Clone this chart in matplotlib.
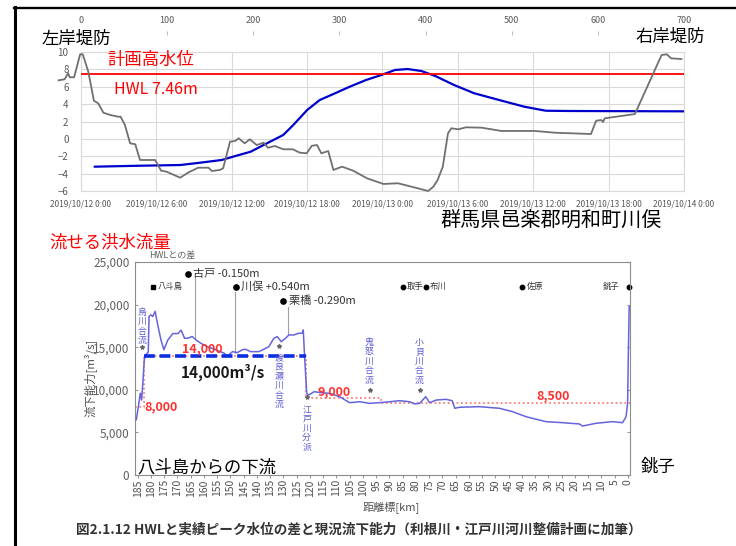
import numpy as np
import matplotlib.pyplot as plt
from matplotlib.lines import Line2D

plt.rcParams['font.family'] = ['Noto Sans CJK JP', 'DejaVu Sans']

# 上段: 横断面 (距離 m / 標高 m)
sec_x = [-26, -19, -15, -13, -8, -1, 2, 8.5, 15, 20,
         26, 34, 43, 46, 51, 57, 63, 68.5, 86, 93,
         99.5, 115, 125, 136, 148, 152, 161, 165, 173, 179,
         183, 190, 196, 204, 212, 217, 225, 235, 246, 254,
         262, 268, 274, 279, 287, 293, 303, 316, 332, 351,
         368, 391, 403, 409, 414, 420, 426, 430, 438, 447,
         465, 488, 527, 550, 592, 598, 604, 606, 608, 627,
         643, 674, 680, 685, 697]
sec_z = [6.74, 6.86, 7.55, 7.09, 7.09, 9.74, 9.74, 7.73, 4.39, 4.09,
         3.01, 2.75, 2.55, 2.55, 1.60, -0.51, -0.62, -2.43, -2.43, -3.66,
         -3.78, -4.47, -3.85, -3.32, -3.32, -3.70, -3.58, -3.39, -0.33, -0.24,
         0.07, -0.51, -0.05, -0.71, -0.44, -1.02, -0.82, -1.20, -1.20, -1.59,
         -1.66, -0.79, -0.71, -1.66, -1.40, -3.58, -3.20, -3.66, -4.54, -5.19,
         -5.11, -5.69, -6.00, -5.51, -4.73, -3.20, 0.64, 1.22, 1.10, 1.33,
         1.29, 0.91, 0.91, 0.71, 0.56, 2.09, 2.17, 1.94, 2.37, 2.63,
         2.86, 9.65, 9.74, 9.27, 9.19]

# 上段: 川俣水位 (2019/10/12 0:00 からの時間 h / 水位 m)
wl_t = [1.1, 4.7, 7.9, 9.5, 11.2, 12.1, 13.5, 14.8, 16.1, 16.9,
        18.0, 19.0, 20.1, 21.4, 22.7, 23.9, 25.0, 26.0, 27.1, 28.2,
        29.7, 31.3, 33.5, 35.3, 37.0, 38.8, 48.0]
wl_h = [-3.20, -3.09, -3.01, -2.74, -2.43, -2.05, -1.48, -0.51, 0.45, 1.60,
        3.32, 4.47, 5.17, 6.01, 6.78, 7.35, 7.93, 8.04, 7.81, 7.24,
        6.20, 5.25, 4.39, 3.70, 3.24, 3.21, 3.17]
hwl = 7.46

time_ticks = [0, 6, 12, 18, 24, 30, 36, 42, 48]
time_labels = ['2019/10/12 0:00', '2019/10/12 6:00', '2019/10/12 12:00',
               '2019/10/12 18:00', '2019/10/13 0:00', '2019/10/13 6:00',
               '2019/10/13 12:00', '2019/10/13 18:00', '2019/10/14 0:00']
dist_ticks = [0, 100, 200, 300, 400, 500, 600, 700]

# 下段: 現況流下能力 (距離標 km / m3/s)
cap_km = [185.5, 184.5, 184.0, 183.5, 183.0, 182.5, 182.0, 181.0, 180.7, 180.0,
          179.3, 178.4, 177.4, 176.2, 175.1, 173.6, 171.7, 169.8, 168.6, 167.3,
          166.1, 164.4, 163.0, 161.1, 158.6, 155.5, 152.4, 151.1, 149.2, 147.4,
          145.5, 144.3, 142.4, 139.2, 137.4, 135.5, 133.6, 132.3, 130.8, 129.2,
          127.9, 126.0, 124.2, 122.9, 122.5, 122.0, 121.2, 120.4, 118.4, 115.9,
          112.5, 108.8, 105.0, 101.2, 97.5, 93.7, 89.9, 86.1, 82.4, 80.5,
          78.6, 76.3, 74.8, 72.3, 68.6, 66.3, 65.3, 63.5, 56.0, 48.5,
          43.5, 38.4, 30.9, 24.6, 18.3, 17.1, 12.0, 5.8, 2.0, 0.7,
          0.1, -0.2, -0.5]
cap_q = [6500, 8500, 9600, 8800, 11000, 13500, 14100, 14400, 18600, 18800,
         18600, 19200, 17600, 15850, 14700, 15850, 16600, 16600, 17000, 16050,
         16050, 16250, 15850, 15450, 15050, 14700, 14300, 13970, 14480, 14360,
         14700, 14760, 14480, 14480, 14760, 15060, 16050, 16240, 15650, 16050,
         16440, 16440, 16640, 16640, 17020, 13890, 9590, 9390, 9780, 9660,
         9590, 9190, 8490, 8600, 8410, 8490, 8600, 8720, 8600, 8340,
         8410, 9190, 8490, 8800, 8880, 8720, 7830, 7950, 8020, 7830,
         7430, 6840, 6260, 6140, 5990, 5750, 6070, 6260, 6140, 6840,
         8410, 14680, 19760]

# 計画流量 (赤点線)
plan_km = [186, 182.6, 182.6, 121.6, 121.6, 93.0, 93.0, -0.8]
plan_q = [8000, 8000, 14000, 14000, 9000, 9000, 8500, 8500]
# 流せる洪水流量 14,000m3/s
flow_km = [182.5, 121.6]
flow_q = 14000

# 水位観測所
gauge_names = ['古戸 -0.150m', '川俣 +0.540m', '栗橋 -0.290m']
gauge_km = [166.0, 148.0, 130.0]
gauge_y = [23600, 22070, 20400]
lead_km = [163.4, 148.3, 128.4]
lead_top = [23100, 21500, 19700]
lead_bot = [16100, 14300, 16400]

small_names = ['取手', '布川', '佐原']
small_km = [85.0, 76.3, 39.8]
small_y = 22100

# 合流点
conf_names = ['烏川合流', '渡良瀬川合流', '江戸川分派', '鬼怒川合流', '小貝川合流']
conf_km = [183.4, 131.6, 121.2, 97.5, 78.6]
conf_top = [19600, 14300, 8200, 16080, 16080]
conf_star = [15060, 15140, 9190, 9980, 9980]

W, H = 736, 546


def fx(x):
    return x / W


def fy(y):
    return 1 - y / H


fig = plt.figure(figsize=(7.36, 5.46), dpi=100)

# 枠線
fig.add_artist(Line2D([fx(14.7), fx(14.7)], [fy(7), 0], color='k', lw=2.2,
                      transform=fig.transFigure))
fig.add_artist(Line2D([fx(13.6), 1], [fy(7.8), fy(7.8)], color='k', lw=1.7,
                      transform=fig.transFigure))

# ---- 上段 ----
ax1 = fig.add_axes([fx(81), fy(191), 603 / W, 139 / H])
ax1.set_xlim(0, 48)
ax1.set_ylim(-6, 10)
ax1.set_xticks(time_ticks)
ax1.set_xticklabels(time_labels)
ax1.set_yticks(range(-6, 11, 2))
ax1.grid(color='#d9d9d9', lw=0.8)
for s in ax1.spines.values():
    s.set_color('#d9d9d9')
ax1.tick_params(length=0, labelsize=6, labelcolor='#595959')
ax1.tick_params(axis='y', labelsize=7, pad=9)
ax1.tick_params(axis='x', pad=6)
ax1.plot(wl_t, wl_h, color='#0000cc', lw=1.6, zorder=3)
ax1.plot([0, 48], [hwl, hwl], color='#ff0000', lw=1.3, zorder=3)

ax2 = fig.add_axes([fx(81), fy(191), 603 / W, 156 / H])
ax2.patch.set_alpha(0)
ax2.set_xlim(0, 700)
ax2.set_ylim(-6, -6 + 156 / 8.6875)
for s in ax2.spines.values():
    s.set_visible(False)
ax2.set_yticks([])
ax2.xaxis.tick_top()
ax2.set_xticks(dist_ticks)
ax2.tick_params(axis='x', length=3, color='#bfbfbf', labelsize=6.5,
                labelcolor='#595959', pad=4)
ax2.plot(sec_x, sec_z, color='#707070', lw=1.3, clip_on=False, zorder=2)

fig.text(fx(76), fy(39), '左岸堤防', fontsize=12.5, ha='center', va='center')
fig.text(fx(670), fy(37), '右岸堤防', fontsize=12.5, ha='center', va='center')
fig.text(fx(151), fy(60), '計画高水位', fontsize=12.5, color='red',
         ha='center', va='center')
fig.text(fx(156), fy(89), 'HWL 7.46m', fontsize=11.5, color='red',
         ha='center', va='center')
fig.text(fx(551), fy(220), '群馬県邑楽郡明和町川俣', fontsize=14.5,
         ha='center', va='center')

# ---- 下段 ----
ax3 = fig.add_axes([fx(135), fy(475), 495 / W, 213 / H])
ax3.set_xlim(186, -0.8)
ax3.set_ylim(0, 25000)
ax3.set_xticks(range(185, -1, -5))
ax3.set_yticks(range(0, 25001, 5000))
ax3.set_yticklabels(['{:,}'.format(v) for v in range(0, 25001, 5000)])
ax3.tick_params(axis='x', rotation=90, labelsize=7.5, labelcolor='#505050',
                length=2, color='#999999', pad=1)
ax3.tick_params(axis='y', labelsize=8.5, labelcolor='#606060', length=2,
                color='#999999', right=True, direction='in', pad=4)
for s in ax3.spines.values():
    s.set_color('#8c8c8c')

ax3.plot(plan_km, plan_q, color='#ff6b6b', lw=1.2, ls=':', zorder=2)
ax3.plot(cap_km, cap_q, color='#6464dc', lw=1.1, zorder=3)
ax3.plot(flow_km, [flow_q, flow_q], color='#0a2ee0', lw=2.6,
         dashes=(3, 1.3), zorder=4)

for name, k, top, st in zip(conf_names, conf_km, conf_top, conf_star):
    ax3.text(k, top, '\n'.join(name), fontsize=6.4, color='#5a5ad6',
             ha='center', va='top', linespacing=1.05, zorder=5)
    ax3.plot(k, st, marker='*', ms=3, color='#666666', zorder=5)

for name, k, y, lk, lt, lb in zip(gauge_names, gauge_km, gauge_y,
                                  lead_km, lead_top, lead_bot):
    ax3.plot(k, y, 'o', color='k', ms=3.8)
    ax3.text(k - 2.0, y, name, fontsize=8, color='#333333',
             ha='left', va='center')
    ax3.plot([lk, lk], [lt, lb], color='#a0a0a0', lw=0.8)

ax3.plot(179.1, 22070, 's', color='k', ms=3)
ax3.text(177.3, 22070, '八斗島', fontsize=6, color='#333333',
         ha='left', va='center')
for name, k in zip(small_names, small_km):
    ax3.plot(k, small_y, 'o', color='k', ms=3.2)
    ax3.text(k - 1.6, small_y, name, fontsize=6, color='#333333',
             ha='left', va='center')
ax3.plot(-0.5, small_y, 'o', color='k', ms=3.2, clip_on=False)
ax3.text(3.3, small_y, '銚子', fontsize=6, color='#333333',
         ha='right', va='center')

ax3.text(160.6, 14800, '14,000', fontsize=9, color='#ff3030',
         fontweight='bold', ha='center', va='center', zorder=6)
ax3.text(153.0, 12090, '14,000m³/s', fontsize=11, color='#1a1a1a',
         fontweight='bold', ha='center', va='center', zorder=6)
ax3.text(111.0, 9740, '9,000', fontsize=9, color='#ff3030',
         fontweight='bold', ha='center', va='center', zorder=6)
ax3.text(28.1, 9270, '8,500', fontsize=9, color='#ff3030',
         fontweight='bold', ha='center', va='center', zorder=6)
ax3.text(176.2, 7980, '8,000', fontsize=9, color='#ff3030',
         fontweight='bold', ha='center', va='center', zorder=6)

fig.text(fx(90), fy(378), '流下能力[m³/s]', fontsize=8.2, color='#505050',
         rotation=90, ha='center', va='center')
fig.text(fx(391), fy(507), '距離標[km]', fontsize=8, color='#505050',
         ha='center', va='center')
fig.text(fx(172), fy(255), 'HWLとの差', fontsize=6.5, color='#606060',
         ha='center', va='center')

fig.text(fx(110), fy(242), '流せる洪水流量', fontsize=12.5, color='red',
         ha='center', va='center')
fig.text(fx(207), fy(468), '八斗島からの下流', fontsize=12.5,
         ha='center', va='center')
fig.text(fx(658), fy(467), '銚子', fontsize=12.5, ha='center', va='center')
fig.text(fx(359), fy(530),
         '図2.1.12 HWLと実績ピーク水位の差と現況流下能力（利根川・江戸川河川整備計画に加筆）',
         fontsize=9.8, fontweight='bold', color='#333333',
         ha='center', va='center')

fig.savefig('out.png', dpi=100)
